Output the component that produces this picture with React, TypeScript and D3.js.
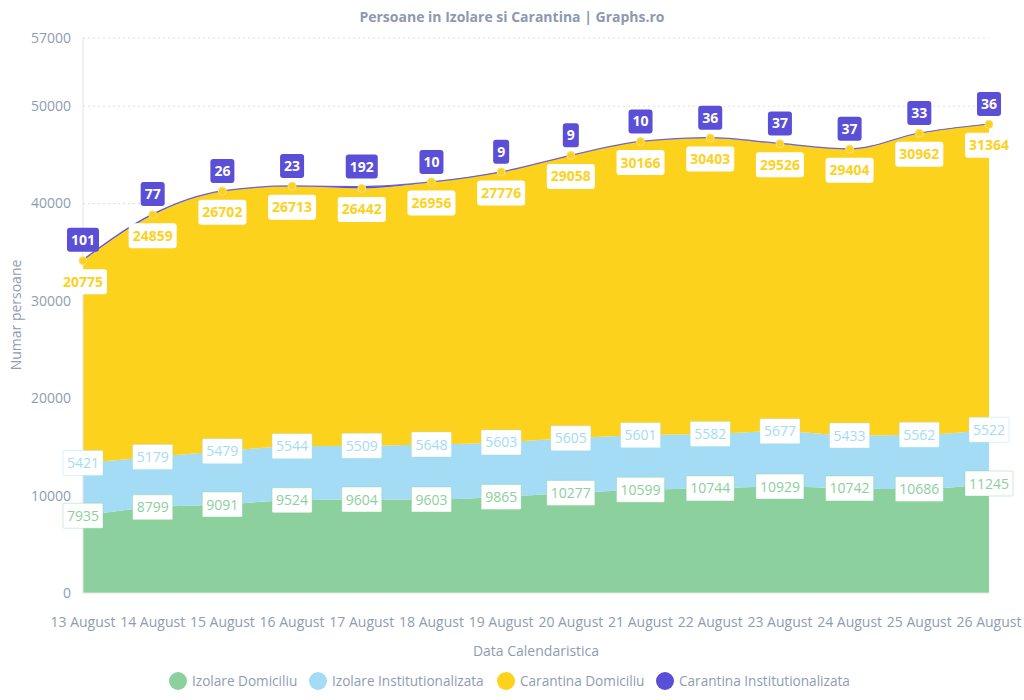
import React from "react";
import * as d3 from "d3";

const dates = ["13 August","14 August","15 August","16 August","17 August","18 August","19 August","20 August","21 August","22 August","23 August","24 August","25 August","26 August"];
const izolareDomiciliu = [7935, 8799, 9091, 9524, 9604, 9603, 9865, 10277, 10599, 10744, 10929, 10742, 10686, 11245];
const izolareInstitutionalizata = [5421, 5179, 5479, 5544, 5509, 5648, 5603, 5605, 5601, 5582, 5677, 5433, 5562, 5522];
const carantinaDomiciliu = [20775, 24859, 26702, 26713, 26442, 26956, 27776, 29058, 30166, 30403, 29526, 29404, 30962, 31364];
const carantinaInstitutionalizata = [101, 77, 26, 23, 192, 10, 9, 9, 10, 36, 37, 37, 33, 36];
const yTicks = [0, 10000, 20000, 30000, 40000, 50000, 57000];
const seriesNames = ["Izolare Domiciliu", "Izolare Institutionalizata", "Carantina Domiciliu", "Carantina Institutionalizata"];
const seriesColors = ["#8bd09d", "#a3dcf4", "#fdd21d", "#5a4fd6"];

const FONT = "'Open Sans', sans-serif";
const TXT = "#8f9cb2";
const LEGEND_X = [178, 318, 506, 665];

function measure(text: string, font: string) {
  const c = document.createElement("canvas").getContext("2d");
  if (!c) return text.length * 8;
  c.font = font;
  return c.measureText(text).width;
}

export default function App() {
  const W = 1024, H = 700;
  const left = 83, right = 989, top = 38, bottom = 593;
  const x = d3.scalePoint<string>().domain(dates).range([left, right]);
  const y = d3.scaleLinear().domain([0, 57000]).range([bottom, top]);
  const seriesData = [izolareDomiciliu, izolareInstitutionalizata, carantinaDomiciliu, carantinaInstitutionalizata];
  const rows = dates.map((d, i) => ({ date: d, s0: seriesData[0][i], s1: seriesData[1][i], s2: seriesData[2][i], s3: seriesData[3][i] }));
  const stack = d3.stack<any>().keys(["s0", "s1", "s2", "s3"]);
  const stacked = stack(rows);
  const area = d3.area<any>()
    .x((d: any) => x(d.data.date)!)
    .y0((d: any) => y(d[0]))
    .y1((d: any) => y(d[1]))
    .curve(d3.curveMonotoneX);
  const line = d3.line<any>()
    .x((d: any) => x(d.data.date)!)
    .y((d: any) => y(d[1]))
    .curve(d3.curveMonotoneX);

  const legSize = 13.6;
  const labelFont = `14px ${FONT}`;
  const boldFont = `bold 14px ${FONT}`;

  return (
    <svg width={W} height={H} style={{ position: "absolute", left: 0, top: 0, fontFamily: FONT }}>
      <rect width={W} height={H} fill="#fff" />
      <text x={512} y={22} textAnchor="middle" fontSize={14} fontWeight="bold" fill="#8c99b0">Persoane in Izolare si Carantina | Graphs.ro</text>
      {yTicks.filter((t) => t > 0).map((t) => (
        <line key={t} x1={left} x2={right} y1={y(t)} y2={y(t)} stroke="#e0e0e0" strokeDasharray="2,3" />
      ))}
      {yTicks.map((t) => (
        <text key={"yl" + t} x={71} y={y(t)} dy="0.35em" textAnchor="end" fontSize={14} fill={TXT}>{t}</text>
      ))}
      <text transform={`translate(16,315) rotate(-90)`} textAnchor="middle" fontSize={14} fill={TXT} dy="0.35em">Numar persoane</text>
      {stacked.map((s, i) => (
        <path key={"a" + i} d={area(s as any) || ""} fill={seriesColors[i]} />
      ))}
      <path d={line(stacked[3] as any) || ""} fill="none" stroke={seriesColors[3]} strokeWidth={1.2} strokeOpacity={0.85} />
      <line x1={left} x2={left} y1={top} y2={bottom} stroke="#e3e3e3" />
      <line x1={left} x2={right} y1={bottom} y2={bottom} stroke="#e3e3e3" />
      {stacked[2].map((d: any, i: number) => (
        <circle key={"pt" + i} cx={x(d.data.date)!} cy={y(d[1])} r={4} fill={seriesColors[2]} stroke="#f5e08a" strokeWidth={1} />
      ))}
      {[0, 1].map((si) => stacked[si].map((d: any, i: number) => {
        const v = seriesData[si][i];
        const tw = measure(String(v), labelFont);
        const bw = tw + 8, bh = 25;
        const cx = x(d.data.date)!, cy = y(d[1]);
        return (
          <g key={`l${si}-${i}`}>
            <rect x={cx - bw / 2} y={cy - bh / 2} width={bw} height={bh} fill="#fff" stroke={seriesColors[si]} strokeOpacity={0.4} strokeWidth={1} rx={1} />
            <text x={cx} y={cy} dy="0.36em" textAnchor="middle" fontSize={14} fill={seriesColors[si]}>{v}</text>
          </g>
        );
      }))}
      {stacked[2].map((d: any, i: number) => {
        const v = seriesData[2][i];
        const tw = measure(String(v), boldFont);
        const bw = tw + 8, bh = 25;
        const cx = x(d.data.date)!, cy = y(d[1]) + 21;
        return (
          <g key={`ly-${i}`}>
            <rect x={cx - bw / 2} y={cy - bh / 2} width={bw} height={bh} fill="#fff" rx={3} />
            <text x={cx} y={cy} dy="0.36em" textAnchor="middle" fontSize={14} fontWeight="bold" fill={seriesColors[2]}>{v}</text>
          </g>
        );
      })}
      {stacked[3].map((d: any, i: number) => {
        const v = seriesData[3][i];
        const tw = measure(String(v), boldFont);
        const bw = tw + 8, bh = 24;
        const cx = x(d.data.date)!, cy = y(d[1]) - 20;
        return (
          <g key={`lp-${i}`}>
            <rect x={cx - bw / 2} y={cy - bh / 2} width={bw} height={bh} fill={seriesColors[3]} rx={3} />
            <text x={cx} y={cy} dy="0.36em" textAnchor="middle" fontSize={14} fontWeight="bold" fill="#fff">{v}</text>
          </g>
        );
      })}
      {dates.map((d) => (
        <text key={"x" + d} x={x(d)!} y={622} dy="0.35em" textAnchor="middle" fontSize={14} fill={TXT}>{d}</text>
      ))}
      <text x={536} y={651} dy="0.35em" textAnchor="middle" fontSize={14} fill={TXT}>Data Calendaristica</text>
      {seriesNames.map((n, i) => (
        <g key={"lg" + i} transform={`translate(${LEGEND_X[i]},681)`}>
          <circle cx={0} cy={0} r={9} fill={seriesColors[i]} />
          <text x={14} y={0} dy="0.35em" fontSize={legSize} fill={TXT}>{n}</text>
        </g>
      ))}
    </svg>
  );
}
